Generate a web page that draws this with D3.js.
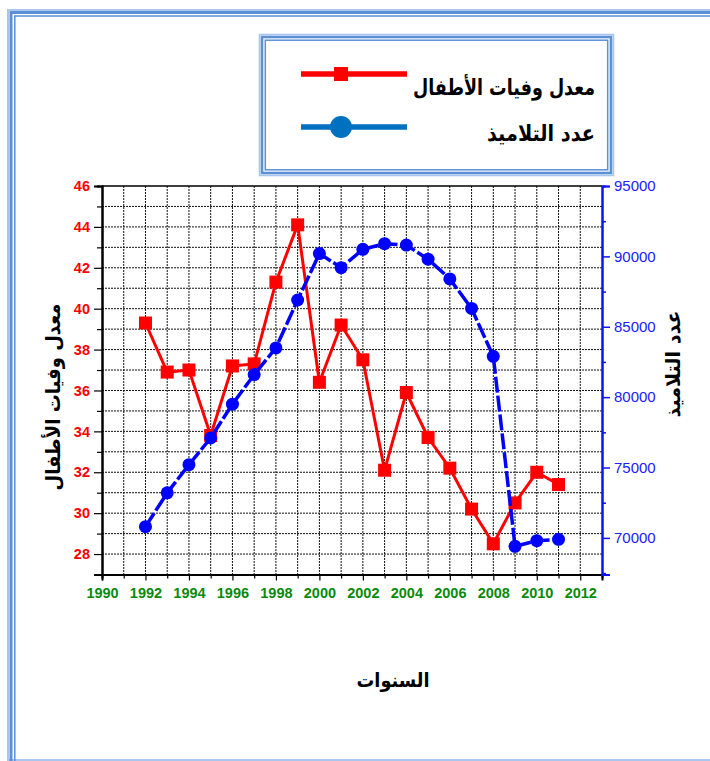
<!DOCTYPE html>
<html>
<head>
<meta charset="utf-8">
<script src="https://cdn.jsdelivr.net/npm/d3@7/dist/d3.min.js"></script>
<style>
  html, body { margin: 0; padding: 0; background: #fff; }
  svg { display: block; }
</style>
</head>
<body>
<svg id="chart" width="710" height="761"></svg>
<script>
// Years on the horizontal axis
const years = [1992, 1993, 1994, 1995, 1996, 1997, 1998, 1999, 2000, 2001,
               2002, 2003, 2004, 2005, 2006, 2007, 2008, 2009, 2010, 2011];

// Infant mortality rate (left axis)
const mortality = [39.3, 36.9, 37.0, 33.8, 37.2, 37.3, 41.3, 44.1, 36.4, 39.2,
                   37.5, 32.1, 35.9, 33.7, 32.2, 30.2, 28.5, 30.5, 32.0, 31.4];

// Number of pupils (right axis)
const pupils = [70800, 73200, 75200, 77100, 79500, 81600, 83500, 86900, 90200, 89200,
                90500, 90900, 90800, 89800, 88400, 86300, 82900, 69400, 69800, 69900];

// Tick values
const xTicks = [1990, 1992, 1994, 1996, 1998, 2000, 2002, 2004, 2006, 2008, 2010, 2012];
const leftTicks = [28, 30, 32, 34, 36, 38, 40, 42, 44, 46];
const rightTicks = [70000, 75000, 80000, 85000, 90000, 95000];

// Text
const leftTitle = "معدل وفيات الأطفال";
const rightTitle = "عدد التلاميذ";
const xTitle = "السنوات";
const seriesNames = ["معدل وفيات الأطفال", "عدد التلاميذ"];

const svg = d3.select("#chart");
const arabicFont = "'DejaVu Sans', sans-serif";
const numFont = "'Liberation Sans', Arial, sans-serif";

const plot = { left: 102, right: 602, top: 186, bottom: 574.5 };

const x = d3.scaleLinear().domain([1990, 2013]).range([plot.left, plot.right]);
const yL = d3.scaleLinear().domain([27, 46]).range([plot.bottom, plot.top]);
const yR = d3.scaleLinear().domain([67400, 95000]).range([plot.bottom, plot.top]);

// Page frame (double blue rule)
const frame = svg.append("g");
frame.append("rect").attr("x", 8).attr("y", 10).attr("width", 720).attr("height", 750)
  .attr("fill", "none").attr("stroke", "#a9c6ee").attr("stroke-width", 2);
frame.append("rect").attr("x", 11).attr("y", 12.5).attr("width", 720).attr("height", 760)
  .attr("fill", "none").attr("stroke", "#5b8fd6").attr("stroke-width", 3);
frame.append("rect").attr("x", 14.8).attr("y", 16).attr("width", 720).attr("height", 760)
  .attr("fill", "none").attr("stroke", "#5b8fd6").attr("stroke-width", 1.5);

// Grid lines
const grid = svg.append("g").attr("stroke", "#111").attr("stroke-width", 1)
  .attr("stroke-dasharray", "2,1");
grid.selectAll("line.v").data(d3.range(1991, 2013)).join("line")
  .attr("x1", d => x(d)).attr("x2", d => x(d))
  .attr("y1", plot.top).attr("y2", plot.bottom);
grid.selectAll("line.h").data(d3.range(28, 46)).join("line")
  .attr("x1", plot.left).attr("x2", plot.right)
  .attr("y1", d => yL(d)).attr("y2", d => yL(d));

// Top frame line
svg.append("line").attr("x1", plot.left).attr("x2", plot.right)
  .attr("y1", plot.top).attr("y2", plot.top)
  .attr("stroke", "#000").attr("stroke-width", 1.5);

// Bottom axis: minor ticks, then labelled major ticks
const xMinor = svg.append("g").attr("transform", `translate(0,${plot.bottom})`)
  .call(d3.axisBottom(x).tickValues(d3.range(1991, 2013, 2)).tickSize(4).tickFormat(""));
const xAxis = svg.append("g").attr("transform", `translate(0,${plot.bottom})`)
  .call(d3.axisBottom(x).tickValues(xTicks).tickSize(6).tickPadding(7).tickFormat(d3.format("d")));
[xMinor, xAxis].forEach(g => {
  g.select(".domain").attr("stroke", "#000").attr("stroke-width", 2);
  g.selectAll(".tick line").attr("stroke", "#000").attr("stroke-width", 1.2);
});
xAxis.selectAll(".tick text").attr("fill", "#0a8a0a").attr("font-family", numFont)
  .attr("font-weight", "bold").attr("font-size", 14.5);

// Left axis
const lMinor = svg.append("g").attr("transform", `translate(${plot.left},0)`)
  .call(d3.axisLeft(yL).tickValues(d3.range(29, 46, 2)).tickSize(5).tickFormat(""));
const lAxis = svg.append("g").attr("transform", `translate(${plot.left},0)`)
  .call(d3.axisLeft(yL).tickValues(leftTicks).tickSize(8).tickPadding(4));
[lMinor, lAxis].forEach(g => {
  g.select(".domain").attr("stroke", "#000").attr("stroke-width", 2);
  g.selectAll(".tick line").attr("stroke", "#000").attr("stroke-width", 1.2);
});
lAxis.selectAll(".tick text").attr("fill", "#ff0000").attr("font-family", numFont)
  .attr("font-weight", "bold").attr("font-size", 14.5);

// Right axis
const rMinor = svg.append("g").attr("transform", `translate(${plot.right},0)`)
  .call(d3.axisRight(yR).tickValues(d3.range(67500, 95000, 5000)).tickSize(4).tickFormat(""));
const rAxis = svg.append("g").attr("transform", `translate(${plot.right},0)`)
  .call(d3.axisRight(yR).tickValues(rightTicks).tickSize(8).tickPadding(4).tickFormat(d3.format("d")));
[rMinor, rAxis].forEach(g => {
  g.select(".domain").attr("stroke", "#1010ff").attr("stroke-width", 2);
  g.selectAll(".tick line").attr("stroke", "#1010ff").attr("stroke-width", 1.5);
});
rAxis.selectAll(".tick text").attr("fill", "#2020ff").attr("font-family", numFont)
  .attr("font-size", 15);

// Series: infant mortality (red, squares)
const redData = years.map((yr, i) => [yr, mortality[i]]);
const blueData = years.map((yr, i) => [yr, pupils[i]]);

svg.append("path").datum(redData)
  .attr("d", d3.line().x(d => x(d[0])).y(d => yL(d[1])))
  .attr("fill", "none").attr("stroke", "#ff0000").attr("stroke-width", 3);
svg.append("g").selectAll("rect").data(redData).join("rect")
  .attr("x", d => x(d[0]) - 6.5).attr("y", d => yL(d[1]) - 6.5)
  .attr("width", 13).attr("height", 13).attr("fill", "#ff0000");

// Series: pupils (blue, circles, dashed)
svg.append("path").datum(blueData)
  .attr("d", d3.line().x(d => x(d[0])).y(d => yR(d[1])))
  .attr("fill", "none").attr("stroke", "#0000ff").attr("stroke-width", 3.5)
  .attr("stroke-dasharray", "16,3");
svg.append("g").selectAll("circle").data(blueData).join("circle")
  .attr("cx", d => x(d[0])).attr("cy", d => yR(d[1])).attr("r", 6.5)
  .attr("fill", "#0000ff");

// Axis titles
svg.append("text").text(leftTitle)
  .attr("transform", `translate(60,397) rotate(-90)`)
  .attr("text-anchor", "middle").attr("font-family", arabicFont)
  .attr("font-weight", "bold").attr("font-size", 20).attr("fill", "#000")
  .attr("textLength", 187).attr("lengthAdjust", "spacingAndGlyphs");
svg.append("text").text(rightTitle)
  .attr("transform", `translate(680,364) rotate(-90)`)
  .attr("text-anchor", "middle").attr("font-family", arabicFont)
  .attr("font-weight", "bold").attr("font-size", 20).attr("fill", "#000")
  .attr("textLength", 107).attr("lengthAdjust", "spacingAndGlyphs");
svg.append("text").text(xTitle)
  .attr("x", 393).attr("y", 687)
  .attr("text-anchor", "middle").attr("font-family", arabicFont)
  .attr("font-weight", "bold").attr("font-size", 20).attr("fill", "#000")
  .attr("textLength", 73).attr("lengthAdjust", "spacingAndGlyphs");

// Legend box with double blue border
const lg = svg.append("g");
lg.append("rect").attr("x", 259.5).attr("y", 34.5).attr("width", 354).attr("height", 141)
  .attr("fill", "#fff").attr("stroke", "#a9c6ee").attr("stroke-width", 1.6);
lg.append("rect").attr("x", 262).attr("y", 37).attr("width", 349).attr("height", 136)
  .attr("fill", "none").attr("stroke", "#5b8fd6").attr("stroke-width", 2.6);
lg.append("rect").attr("x", 265.3).attr("y", 40.2).attr("width", 342.4).attr("height", 129.6)
  .attr("fill", "none").attr("stroke", "#5b8fd6").attr("stroke-width", 1.5);

const legendItems = [
  { name: seriesNames[0], color: "#ff0000", shape: "square", ly: 74, ty: 95, tl: 182 },
  { name: seriesNames[1], color: "#0070c0", shape: "circle", ly: 127, ty: 141, tl: 108 }
];
legendItems.forEach(it => {
  lg.append("line").attr("x1", 301).attr("x2", 407).attr("y1", it.ly).attr("y2", it.ly)
    .attr("stroke", it.color).attr("stroke-width", 5.5);
  if (it.shape === "square") {
    lg.append("rect").attr("x", 341 - 7).attr("y", it.ly - 7).attr("width", 14).attr("height", 14)
      .attr("fill", it.color);
  } else {
    lg.append("circle").attr("cx", 341).attr("cy", it.ly).attr("r", 11).attr("fill", it.color);
  }
  lg.append("text").text(it.name)
    .attr("x", 595).attr("y", it.ty).attr("text-anchor", "end")
    .attr("font-family", arabicFont).attr("font-weight", "bold").attr("font-size", 22)
    .attr("fill", "#000")
    .attr("textLength", it.tl).attr("lengthAdjust", "spacingAndGlyphs");
});
</script>
</body>
</html>
